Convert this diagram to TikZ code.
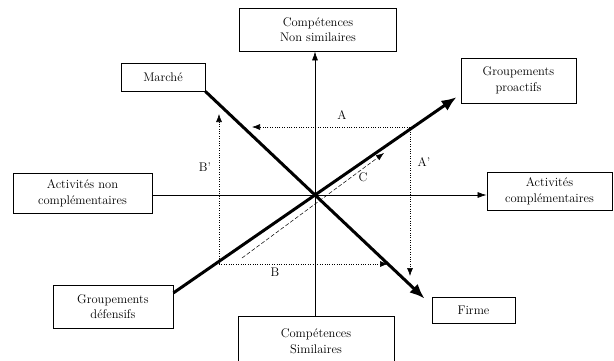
\documentclass[tikz,border=0pt]{standalone}
\usepackage{fontspec}
\usetikzlibrary{arrows.meta,calc}
\newcommand\boxfont{\fontsize{12.5}{15.5}\selectfont\addfontfeatures{LetterSpace=7}}
\begin{document}
\begin{tikzpicture}[x=1pt,y=-1pt,
  box/.style={draw, line width=0.8pt, inner sep=0pt, align=center, font=\boxfont},
  axisline/.style={line width=0.7pt},
  thickarr/.style={line width=3pt, -{Latex[length=15pt,width=12pt]}},
  dotarr/.style={line width=0.6pt, dash pattern=on 1pt off 1.4pt, -{Latex[length=8pt,width=6pt]}},
  carr/.style={line width=0.5pt, dash pattern=on 4pt off 2pt, -{Latex[length=8pt,width=6pt]}},
  lab/.style={font=\boxfont, inner sep=0pt}]
\clip (0,0) rectangle (614,360);
\fill[white] (0,0) rectangle (614,360);
% boxes
\node[box, minimum width=157pt, minimum height=43pt] (top) at (318,29.5) {Compétences\\Non similaires};
\node[box, minimum width=84pt, minimum height=28pt] (marche) at (163,77) {Marché};
\node[box, minimum width=115pt, minimum height=45pt] (pro) at (518.5,80.5) {Groupements\\proactifs};
\node[box, minimum width=139pt, minimum height=40pt] (left) at (82.5,193) {Activités non\\complémentaires};
\node[box, minimum width=125pt, minimum height=38pt] (right) at (549.5,191) {Activités\\complémentaires};
\node[box, minimum width=120pt, minimum height=43pt] (def) at (113,306.5) {Groupements\\défensifs};
\node[box, minimum width=156pt, minimum height=50pt] (bot) at (316,341) {Compétences\\Similaires};
\node[box, minimum width=83pt, minimum height=26pt] (firme) at (473.5,310) {Firme};
% axes
\coordinate (O) at (315,195);
\draw[axisline, -{Latex[length=9pt,width=6pt]}] (O) -- (O |- top.south);
\draw[axisline] (O) -- (O |- bot.north);
\draw[axisline, -{Latex[length=9pt,width=6pt]}] (O -| left.east) -- (O -| right.west);
% thick arrows
\draw[thickarr] (marche.south east) -- ($(marche.south east)!2!(O)$);
\coordinate (dstart) at ($(def.north east)!0.19!(def.south east)$);
\draw[thickarr] (dstart) -- ($(dstart)!2!(O)$);
% dotted rectangle arrows
\coordinate (TR) at (410,127);
\coordinate (BL) at (219,264);
\coordinate (Atip) at (252,127);
\coordinate (Aptip) at (410,276);
\coordinate (Btip) at (388,264);
\coordinate (Bptip) at (219,114);
\draw[dotarr] (TR) -- (Atip);
\draw[dotarr] (TR) -- (Aptip);
\draw[dotarr] (BL) -- (Btip);
\draw[dotarr] (BL) -- (Bptip);
% C arrow
\coordinate (Cstart) at (242,258);
\coordinate (Ctip) at (384,153);
\draw[carr] (Cstart) -- (Ctip);
% labels
\node[lab] (la) at (342,115) {A};
\node[lab] (lap) at (424,162) {A’};
\node[lab] (lb) at (275,272) {B};
\node[lab] (lbp) at (205,167) {B’};
\node[lab] (lc) at (363,177) {C};
\end{tikzpicture}
\end{document}
